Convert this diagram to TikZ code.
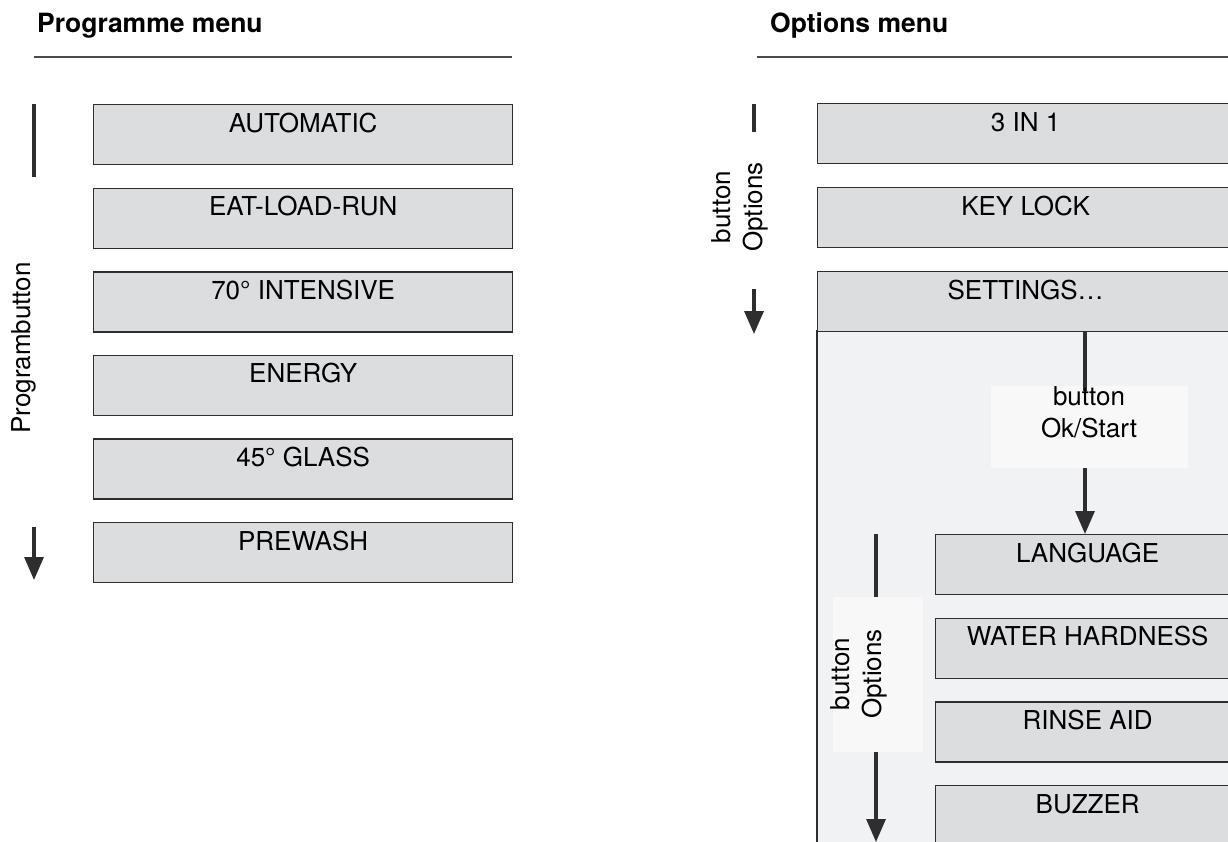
\documentclass[tikz,border=0pt]{standalone}
\usepackage{fontspec}
\setmainfont{TeX Gyre Heros}
\usetikzlibrary{arrows.meta,positioning}

\definecolor{boxgray}{HTML}{DCDDDF}
\definecolor{boxline}{HTML}{2E2E30}
\definecolor{panelgray}{HTML}{F1F2F4}
\definecolor{labelbg}{HTML}{F8F8F9}
\definecolor{rulegray}{HTML}{4A4A4C}

\tikzset{
	menubox/.style={draw=boxline, fill=boxgray, line width=1.3pt,
		anchor=north west, inner xsep=0pt, inner ysep=0pt,
		text height=27.5pt, text depth=32.5pt},
	labelbox/.style={fill=labelbg, draw=none, inner sep=0pt},
	beschr/.style={inner sep=0pt, align=center},
	strich/.style={line width=3.2pt, draw=boxline},
	pfeil/.style={strich, -{Triangle[width=19pt,length=23pt]}},
	titel/.style={anchor=base west, inner sep=0pt,
		font=\fontsize{26.5}{31}\selectfont\bfseries},
	trenner/.style={line width=1.3pt, draw=rulegray}
}

\begin{document}
\begin{tikzpicture}[x=1pt, y=-1pt, font=\fontsize{26}{32}\selectfont]
	\clip (0,0) rectangle (1228,841);
	\fill[white] (0,0) rectangle (1228,841);
	% Ueberschriften
	\node[titel] (titelprog) at (37,32) {Programme menu};
	\node[titel] (titelopt) at (770,32) {Options menu};
	\draw[trenner] (34,57) -- (512,57);
	\draw[trenner] (757,57) -- (1228,57);
	% Programmliste
	\foreach \txt [count=\i from 0] in {AUTOMATIC, EAT-LOAD-RUN,
		70° INTENSIVE, ENERGY, 45° GLASS, PREWASH}
	{
		\pgfmathsetmacro{\ypos}{104+83.6*\i}
		\node[menubox, minimum width=419pt] (prog\i) at (93,\ypos) {\txt};
	}
	% Programmtaste
	\coordinate (pa) at (34,104);
	\coordinate (pb) at (34,177);
	\coordinate (pc) at (34,527);
	\coordinate (pd) at (34,580);
	\draw[strich] (pa) -- (pb);
	\draw[pfeil] (pc) -- (pd);
	\node[beschr, rotate=90] (progtaste) at (24,348) {Programbutton};
	% Optionsmenue
	\filldraw[fill=panelgray, draw=boxline, line width=1.3pt] (817,331)
	rectangle (1260,860);
	\foreach \txt [count=\i from 0] in {3 IN 1, KEY LOCK, SETTINGS\dots}
	{
		\pgfmathsetmacro{\ypos}{103+84*\i}
		\node[menubox, minimum width=416pt] (opt\i) at (817,\ypos) {\txt};
	}
	% Optionstaste oben
	\coordinate (oa) at (754,104);
	\coordinate (ob) at (754,132);
	\coordinate (oc) at (754,289);
	\coordinate (od) at (754,334);
	\draw[strich] (oa) -- (ob);
	\draw[pfeil] (oc) -- (od);
	\node[beschr, rotate=90] (opttaste) at (740,207) {button\\Options};
	% Einstellungen
	\foreach \txt [count=\i from 0] in {LANGUAGE, WATER HARDNESS, RINSE AID,
		BUZZER}
	{
		\pgfmathsetmacro{\ypos}{534+83.7*\i}
		\node[menubox, minimum width=304pt] (set\i) at (935,\ypos) {\txt};
	}
	% Taste Ok/Start
	\node[labelbox, minimum width=197pt, minimum height=82pt] (okbg) at
	(1089.5,427) {};
	\coordinate (ka) at (opt2.south -| 1085,0);
	\coordinate (kb) at (1085,391);
	\coordinate (kc) at (okbg.south -| 1085,0);
	\coordinate (kd) at (set0.north -| 1085,0);
	\draw[strich] (ka) -- (kb);
	\node[beschr] (oktaste) at (1089,412) {button\\Ok/Start};
	\draw[pfeil] (kc) -- (kd);
	% Optionstaste unten
	\node[labelbox, minimum width=90pt, minimum height=155pt] (optbg) at
	(878,674.5) {};
	\coordinate (ua) at (set0.north -| 876,0);
	\coordinate (ub) at (optbg.north -| 876,0);
	\coordinate (uc) at (optbg.south -| 876,0);
	\coordinate (ud) at (876,842);
	\draw[strich] (ua) -- (ub);
	\draw[pfeil] (uc) -- (ud);
	\node[beschr, rotate=90] (opttaste2) at (859,674) {button\\Options};
\end{tikzpicture}
\end{document}
